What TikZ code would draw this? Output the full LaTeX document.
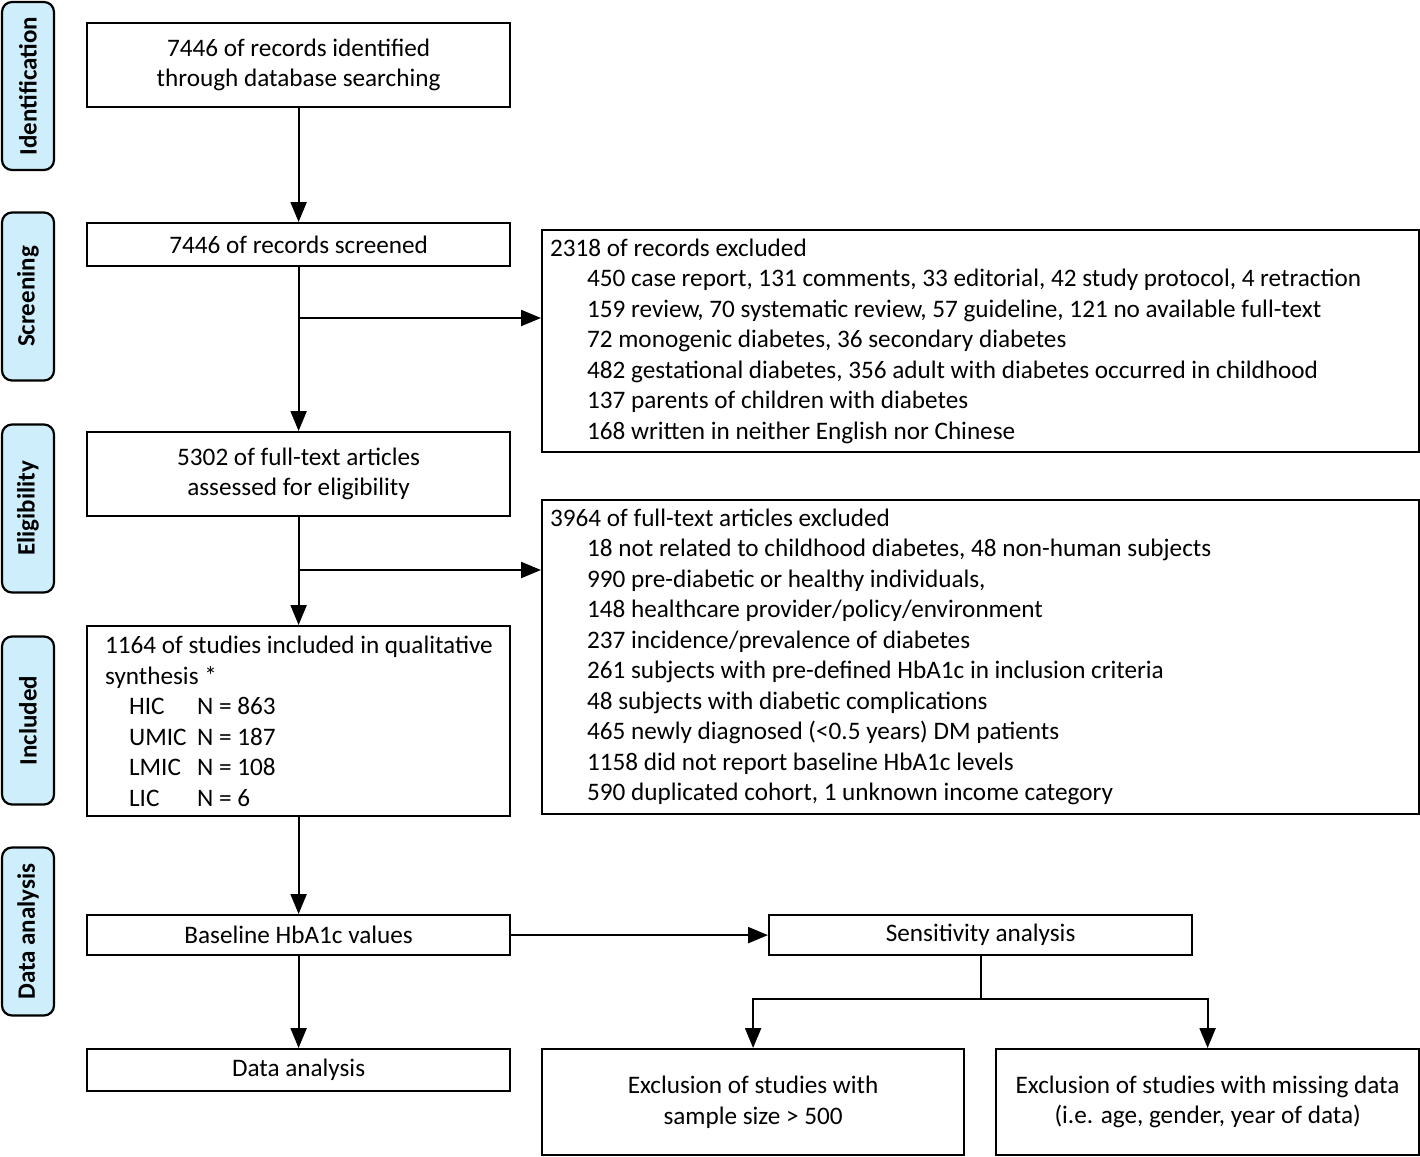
\documentclass[tikz,border=0pt]{standalone}
\usepackage{fontspec}
\setmainfont{Carlito}
\usetikzlibrary{arrows.meta}
\definecolor{phasefill}{RGB}{205,238,250}
\begin{document}
\begin{tikzpicture}[x=1pt,y=-1pt,
  every node/.style={font=\fontsize{25.2}{30.5}\selectfont},
  box/.style={draw, line width=2.2pt, anchor=north west, inner sep=0pt, align=center},
  listbox/.style={draw, line width=2.2pt, anchor=north west, inner xsep=8pt, inner ysep=0pt, align=left},
  phase/.style={draw, line width=2.2pt, fill=phasefill, rounded corners=10pt, rotate=90,
    minimum width=168pt, minimum height=52pt, inner sep=0pt, font=\fontsize{25}{30}\selectfont\bfseries},
  arr/.style={line width=2.2pt, -{Triangle[length=20pt,width=16pt]}},
  ln/.style={line width=2.2pt}]
\useasboundingbox (0,0) rectangle (1420,1156);
\newcommand{\ind}{\hspace*{37pt}}
\newcommand{\nsp}{\spaceskip=0pt\xspaceskip=0pt\relax}
% phase labels
\node[phase] (pid) at (28,86) {Identification};
\node[phase] (pscr) at (28,296.5) {Screening};
\node[phase] (pel) at (28,508.5) {Eligibility};
\node[phase] (pin) at (28,720.5) {Included};
\node[phase] (pda) at (28,931.5) {Data analysis};
% main boxes
\node[box, minimum width=423pt, minimum height=84pt] (ident) at (86,22) {7446 of records identified\\through database searching};
\node[box, minimum width=423pt, minimum height=43pt] (screen) at (86,222) {7446 of records screened};
\node[box, minimum width=423pt, minimum height=84pt] (elig) at (86,431) {5302 of full-text articles\\assessed for eligibility};
\node[box, minimum width=423pt, minimum height=190pt, align=left, text width=405pt, inner xsep=0pt, inner ysep=0pt] (incl) at (86,625) {\nsp\hspace*{9pt}1164 of studies included in qualitative\\
\hspace*{9pt}synthesis *\\
\hspace*{33pt}\makebox[68pt][l]{HIC}N = 863\\
\hspace*{33pt}\makebox[68pt][l]{UMIC}N = 187\\
\hspace*{33pt}\makebox[68pt][l]{LMIC}N = 108\\
\hspace*{33pt}\makebox[68pt][l]{LIC}N = 6};
\node[box, minimum width=423pt, minimum height=40pt] (base) at (86,914) {Baseline HbA1c values};
\node[box, minimum width=423pt, minimum height=42pt] (da) at (86,1048) {Data analysis};
\node[box, minimum width=423pt, minimum height=40pt] (sens) at (768,914) {Sensitivity analysis};
\node[box, minimum width=422pt, minimum height=106pt] (exa) at (541,1048) {Exclusion of studies with\\sample size > 500};
\node[box, minimum width=423pt, minimum height=106pt] (exb) at (995,1048) {Exclusion of studies with missing data\\(i.e. age, gender, year of data)};
% exclusion lists
\node[listbox, minimum width=877pt, minimum height=222pt, text width=861pt] (excl1) at (541,229) {\nsp 2318 of records excluded\\
\ind 450 case report, 131 comments, 33 editorial, 42 study protocol, 4 retraction\\
\ind 159 review, 70 systematic review, 57 guideline, 121 no available full-text\\
\ind 72 monogenic diabetes, 36 secondary diabetes\\
\ind 482 gestational diabetes, 356 adult with diabetes occurred in childhood\\
\ind 137 parents of children with diabetes\\
\ind 168 written in neither English nor Chinese};
\node[listbox, minimum width=877pt, minimum height=314pt, text width=861pt] (excl2) at (541,499) {\nsp 3964 of full-text articles excluded\\
\ind 18 not related to childhood diabetes, 48 non-human subjects\\
\ind 990 pre-diabetic or healthy individuals,\\
\ind 148 healthcare provider/policy/environment\\
\ind 237 incidence/prevalence of diabetes\\
\ind 261 subjects with pre-defined HbA1c in inclusion criteria\\
\ind 48 subjects with diabetic complications\\
\ind 465 newly diagnosed (<0.5 years) DM patients\\
\ind 1158 did not report baseline HbA1c levels\\
\ind 590 duplicated cohort, 1 unknown income category};
% connectors
\draw[arr] (ident) -- (screen);
\draw[arr] (screen) -- (elig);
\coordinate (b1) at (297.5,318);
\draw[arr] (b1) -- (b1 -| excl1.west);
\draw[arr] (elig) -- (incl);
\coordinate (b2) at (297.5,570);
\draw[arr] (b2) -- (b2 -| excl2.west);
\draw[arr] (incl) -- (base);
\draw[arr] (base) -- (da);
\draw[arr] (base) -- (sens);
\coordinate (j) at ([yshift=-43pt]sens.south);
\draw[ln] (sens.south) -- (j);
\draw[arr] (j) -| (exa.north);
\draw[arr] (j) -| (exb.north);
\end{tikzpicture}
\end{document}
